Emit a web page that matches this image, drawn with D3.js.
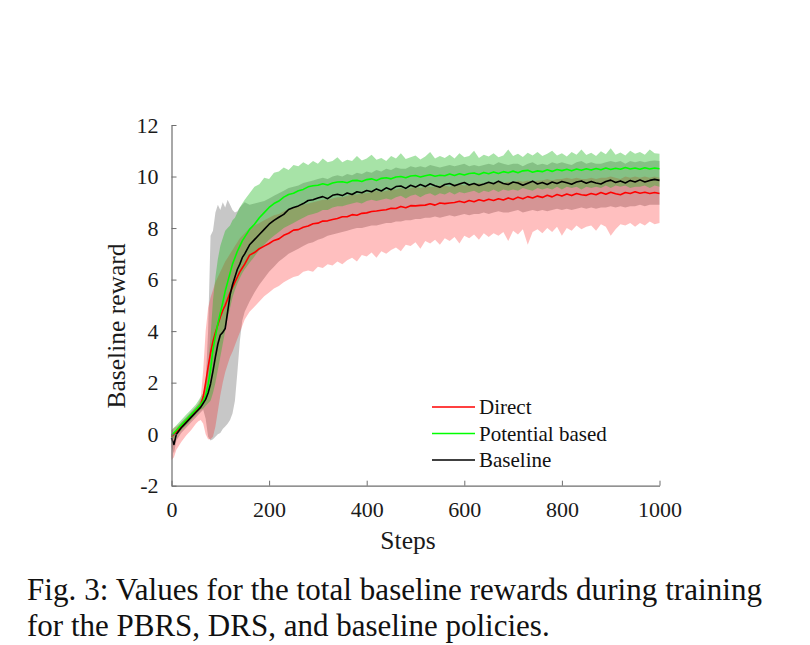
<!DOCTYPE html>
<html>
<head>
<meta charset="utf-8">
<script src="https://cdn.jsdelivr.net/npm/d3@7"></script>
<style>
  body { margin: 0; background: #fff; }
  svg { display: block; }
  text { font-family: "Liberation Serif", "Times New Roman", serif; }
</style>
</head>
<body>
<script>
// x sampling grid (steps)
const steps = [0, 5, 10, 20, 30, 40, 50].concat(d3.range(55, 151, 5), d3.range(160, 1001, 10));

// Potential based (green)
const potMean = [
  -0.05, 0.05, 0.15, 0.35, 0.55, 0.75, 0.95,
  1.05, 1.15, 1.3, 1.5, 1.9, 2.5, 3.3, 3.8, 4.3, 4.7, 5.1, 5.55, 5.9, 6.25, 6.6, 6.85, 7.1, 7.3, 7.5, 7.65,
  7.95, 8.15, 8.4, 8.6, 8.8, 8.95, 9.05, 9.2, 9.3, 9.35,
  9.45, 9.5, 9.6, 9.64, 9.66, 9.72, 9.67, 9.75, 9.79, 9.8,
  9.76, 9.84, 9.85, 9.81, 9.88, 9.91, 9.85, 9.93, 9.95, 9.91,
  9.98, 10.0, 9.95, 10.02, 10.04, 9.98, 10.03, 10.07, 10.01, 10.05,
  10.03, 10.1, 10.04, 10.11, 10.06, 10.12, 10.14, 10.08, 10.16, 10.11,
  10.18, 10.12, 10.19, 10.15, 10.21, 10.15, 10.22, 10.24, 10.17, 10.22,
  10.19, 10.26, 10.2, 10.27, 10.23, 10.28, 10.22, 10.29, 10.24, 10.3,
  10.25, 10.31, 10.26, 10.33, 10.27, 10.32, 10.28, 10.35, 10.29, 10.33,
  10.28, 10.34, 10.29, 10.33, 10.3
];
const potHigh = [
  0.15, 0.25, 0.35, 0.55, 0.75, 0.95, 1.15,
  1.3, 1.45, 1.6, 1.9, 2.6, 3.8, 5.2, 6.1, 6.8, 7.3, 7.6, 7.9, 8.0, 8.1, 8.3, 8.4, 8.6, 8.8, 8.95, 9.1,
  9.35, 9.6, 9.7, 9.95, 9.9, 10.15, 10.2, 10.35, 10.25, 10.45,
  10.4, 10.55, 10.45, 10.6, 10.5, 10.7, 10.55, 10.6, 10.75, 10.55,
  10.65, 10.6, 10.8, 10.62, 10.7, 10.85, 10.65, 10.72, 10.6, 10.8,
  10.7, 10.9, 10.68, 10.75, 10.82, 10.66, 10.78, 10.95, 10.7, 10.8,
  10.72, 10.85, 10.7, 10.9, 10.75, 10.8, 11.0, 10.72, 10.85, 10.78,
  10.9, 10.75, 10.82, 11.05, 10.8, 10.88, 10.76, 10.92, 10.82, 10.95,
  10.8, 10.88, 11.0, 10.82, 10.9, 10.78, 10.95, 10.85, 11.05, 10.84,
  10.92, 10.8, 10.98, 10.86, 11.1, 10.85, 10.93, 10.82, 11.0, 10.88,
  10.95, 10.85, 11.05, 10.9, 10.88
];
const potLow = [
  -0.25, -0.15, -0.05, 0.15, 0.35, 0.55, 0.75,
  0.85, 0.95, 1.0, 1.1, 1.2, 1.3, 1.6, 2.0, 2.5, 3.0, 3.5, 4.0, 4.5, 4.9, 5.3, 5.6, 5.85, 6.05, 6.25, 6.4,
  6.65, 6.9, 7.15, 7.35, 7.55, 7.7, 7.85, 8.0, 8.1, 8.2,
  8.3, 8.4, 8.5, 8.55, 8.6, 8.7, 8.7, 8.8, 8.85, 8.85,
  8.9, 8.95, 9.0, 8.95, 9.05, 9.1, 9.05, 9.1, 9.15, 9.1,
  9.2, 9.25, 9.15, 9.25, 9.3, 9.2, 9.3, 9.35, 9.25, 9.35,
  9.3, 9.4, 9.3, 9.4, 9.35, 9.4, 9.45, 9.35, 9.45, 9.4,
  9.5, 9.4, 9.5, 9.45, 9.5, 9.45, 9.55, 9.5, 9.45, 9.55,
  9.5, 9.55, 9.5, 9.6, 9.5, 9.6, 9.55, 9.6, 9.5, 9.6,
  9.55, 9.6, 9.55, 9.65, 9.55, 9.65, 9.6, 9.65, 9.55, 9.6,
  9.6, 9.65, 9.55, 9.65, 9.6
];

// Baseline (black)
const baseMean = [
  -0.15, -0.4, 0.0, 0.25, 0.45, 0.65, 0.85,
  0.95, 1.05, 1.2, 1.35, 1.6, 1.95, 2.45, 3.0, 3.5, 3.85, 3.95, 4.1, 4.75, 5.4, 5.8, 6.1, 6.4, 6.6, 6.85, 7.0,
  7.35, 7.55, 7.75, 7.95, 8.15, 8.3, 8.42, 8.53, 8.72, 8.8,
  8.86, 8.95, 9.07, 9.1, 9.17, 9.22, 9.14, 9.27, 9.31, 9.26,
  9.36, 9.3, 9.41, 9.37, 9.46, 9.41, 9.52, 9.44, 9.56, 9.49,
  9.61, 9.63, 9.54, 9.66, 9.59, 9.69, 9.61, 9.72, 9.64, 9.58,
  9.69, 9.73, 9.64, 9.71, 9.77, 9.67, 9.73, 9.65, 9.71, 9.78,
  9.72, 9.82, 9.73, 9.69, 9.79, 9.75, 9.66, 9.74, 9.82, 9.71,
  9.77, 9.69, 9.79, 9.73, 9.81, 9.76, 9.7, 9.79, 9.83, 9.74,
  9.81, 9.75, 9.71, 9.81, 9.86, 9.77, 9.83, 9.75, 9.85, 9.79,
  9.87, 9.79, 9.85, 9.89, 9.85
];
const baseHigh = [
  0.05, 0.0, 0.2, 0.45, 0.65, 0.85, 1.05,
  1.15, 1.3, 1.5, 2.0, 4.0, 7.7, 7.9, 8.6, 8.9, 8.7, 9.0, 8.8, 9.1, 8.9, 8.7, 8.6, 8.65, 8.8, 8.9, 9.0,
  8.9, 8.95, 9.0, 9.05, 9.15, 9.25, 9.35, 9.45, 9.55, 9.6,
  9.65, 9.75, 9.8, 9.85, 9.9, 9.95, 9.9, 10.0, 10.05, 10.0,
  10.1, 10.05, 10.15, 10.1, 10.2, 10.15, 10.25, 10.2, 10.3, 10.25,
  10.35, 10.3, 10.3, 10.4, 10.35, 10.4, 10.35, 10.45, 10.4, 10.35,
  10.4, 10.45, 10.4, 10.45, 10.5, 10.4, 10.45, 10.4, 10.45, 10.5,
  10.45, 10.55, 10.5, 10.45, 10.5, 10.5, 10.4, 10.5, 10.55, 10.45,
  10.5, 10.45, 10.55, 10.5, 10.55, 10.5, 10.45, 10.55, 10.6, 10.5,
  10.55, 10.5, 10.5, 10.55, 10.6, 10.55, 10.6, 10.5, 10.6, 10.55,
  10.6, 10.55, 10.6, 10.62, 10.6
];
const baseLow = [
  -0.5, -0.75, -0.25, 0.05, 0.25, 0.45, 0.65,
  0.75, 0.85, 0.95, 0.6, -0.1, -0.25, -0.2, -0.1, 0.0, 0.05, 0.2, 0.3, 0.4, 0.55, 0.8, 1.3, 2.4, 3.6, 4.4, 4.75,
  5.15, 5.5, 5.8, 6.05, 6.3, 6.5, 6.7, 6.85, 7.0, 7.1,
  7.2, 7.3, 7.4, 7.45, 7.55, 7.6, 7.7, 7.75, 7.8, 7.85,
  7.9, 7.95, 8.0, 8.0, 8.05, 8.1, 8.1, 8.15, 8.2, 8.2,
  8.25, 8.25, 8.3, 8.3, 8.35, 8.35, 8.4, 8.4, 8.45, 8.4,
  8.45, 8.5, 8.45, 8.5, 8.55, 8.5, 8.55, 8.55, 8.6, 8.55,
  8.6, 8.65, 8.6, 8.6, 8.65, 8.7, 8.6, 8.65, 8.7, 8.65,
  8.7, 8.65, 8.7, 8.75, 8.7, 8.75, 8.7, 8.75, 8.8, 8.75,
  8.8, 8.75, 8.8, 8.8, 8.85, 8.8, 8.85, 8.8, 8.85, 8.85,
  8.9, 8.85, 8.9, 8.9, 8.9
];

// Direct (red)
const dirMean = [
  -0.1, 0.0, 0.1, 0.3, 0.5, 0.7, 0.9,
  1.0, 1.15, 1.45, 2.0, 2.6, 3.15, 3.6, 3.95, 4.25, 4.55, 4.8, 5.0, 5.25, 5.5, 5.7, 5.9, 6.1, 6.3, 6.45, 6.6,
  6.95, 7.05, 7.2, 7.3, 7.4, 7.52, 7.58, 7.72, 7.8, 7.92,
  7.94, 8.03, 8.08, 8.17, 8.19, 8.27, 8.28, 8.33, 8.37, 8.44,
  8.44, 8.52, 8.5, 8.57, 8.59, 8.64, 8.66, 8.69, 8.71, 8.77,
  8.76, 8.84, 8.79, 8.87, 8.86, 8.88, 8.89, 8.94, 8.89, 8.97,
  8.95, 8.97, 8.99, 9.04, 8.99, 9.07, 9.02, 9.1, 9.05, 9.12,
  9.07, 9.14, 9.09, 9.17, 9.11, 9.2, 9.14, 9.22, 9.17, 9.24,
  9.19, 9.27, 9.21, 9.3, 9.24, 9.32, 9.26, 9.34, 9.29, 9.27,
  9.34, 9.29, 9.38, 9.31, 9.39, 9.33, 9.29, 9.38, 9.34, 9.41,
  9.35, 9.39, 9.34, 9.38, 9.34
];
const dirHigh = [
  0.15, 0.25, 0.3, 0.45, 0.65, 0.85, 1.05,
  1.2, 1.4, 2.5, 4.0, 4.9, 5.3, 5.6, 5.9, 6.1, 6.3, 6.5, 6.7, 6.85, 7.0, 7.15, 7.3, 7.45, 7.6, 7.7, 7.8,
  8.0, 8.1, 8.2, 8.3, 8.4, 8.5, 8.55, 8.65, 8.75, 8.8,
  8.85, 8.9, 8.95, 9.0, 9.05, 9.1, 9.1, 9.15, 9.2, 9.2,
  9.25, 9.3, 9.3, 9.35, 9.35, 9.4, 9.45, 9.4, 9.45, 9.5,
  9.5, 9.55, 9.5, 9.55, 9.6, 9.55, 9.6, 9.6, 9.6, 9.65,
  9.65, 9.6, 9.7, 9.7, 9.65, 9.7, 9.7, 9.75, 9.7, 9.75,
  9.75, 9.8, 9.75, 9.8, 9.75, 9.85, 9.8, 9.85, 9.8, 9.85,
  9.85, 9.9, 9.85, 9.9, 9.9, 9.95, 9.9, 9.95, 9.9, 9.9,
  9.95, 9.9, 9.95, 9.95, 10.0, 9.95, 9.9, 10.0, 9.95, 10.0,
  9.95, 10.0, 9.95, 10.0, 9.95
];
const dirLow = [
  -1.0, -0.9, -0.6, -0.3, -0.05, 0.15, 0.4,
  0.5, 0.55, 0.4, 0.0, -0.2, -0.2, -0.1, 0.3, 0.9, 1.5, 2.0, 2.4, 2.7, 3.0, 3.2, 3.45, 3.7, 3.95, 4.2, 4.45,
  4.75, 4.95, 5.15, 5.35, 5.5, 5.65, 5.75, 5.9, 6.0, 6.1,
  6.15, 6.3, 6.35, 6.3, 6.5, 6.45, 6.6, 6.55, 6.7, 6.6,
  6.75, 6.85, 6.7, 6.95, 6.9, 7.05, 6.85, 7.1, 7.0, 7.15,
  7.25, 7.1, 7.35, 7.3, 7.45, 7.2, 7.5, 7.4, 7.55, 7.35,
  7.6, 7.5, 7.65, 7.4, 7.7, 7.6, 7.75, 7.55, 7.8, 7.65,
  7.8, 7.7, 7.85, 7.5, 7.9, 7.75, 7.95, 7.35, 7.85, 7.95,
  7.8, 8.0, 7.85, 8.05, 7.7, 8.0, 7.9, 8.1, 7.95, 8.05,
  8.1, 7.9, 8.15, 8.05, 7.7, 7.95, 8.15, 8.1, 8.2, 8.05,
  8.2, 8.1, 8.25, 8.15, 8.2
];

const xTicks = [0, 200, 400, 600, 800, 1000];
const yTicks = [-2, 0, 2, 4, 6, 8, 10, 12];
const legendNames = ["Direct", "Potential based", "Baseline"];
const captionLines = [
  "Fig. 3: Values for the total baseline rewards during training",
  "for the PBRS, DRS, and baseline policies."
];

const width = 810, height = 645;
const x = d3.scaleLinear().domain([0, 1000]).range([171.5, 659.5]);
const y = d3.scaleLinear().domain([-2, 12]).range([485.7, 125]);

const svg = d3.select("body").append("svg")
  .attr("width", width)
  .attr("height", height);

const series = [
  { name: "Baseline", mean: baseMean, lo: baseLow, hi: baseHigh, line: "#000000", fill: "#000000", op: 0.22 },
  { name: "Direct", mean: dirMean, lo: dirLow, hi: dirHigh, line: "#ff0000", fill: "#ff0000", op: 0.25 },
  { name: "Potential based", mean: potMean, lo: potLow, hi: potHigh, line: "#00ff00", fill: "#22b822", op: 0.4 }
];

const area = (lo, hi) => d3.area()
  .x((d, i) => x(steps[i]))
  .y0((d, i) => y(lo[i]))
  .y1((d, i) => y(hi[i]))(steps);

const line = (vals) => d3.line()
  .x((d, i) => x(steps[i]))
  .y((d, i) => y(vals[i]))(steps);

// shaded bands
svg.append("g").selectAll("path")
  .data(series)
  .join("path")
  .attr("d", (s) => area(s.lo, s.hi))
  .attr("fill", (s) => s.fill)
  .attr("fill-opacity", (s) => s.op)
  .attr("stroke", "none");

// mean lines (red, green, black on top)
const lineOrder = [series[1], series[2], series[0]];
svg.append("g").selectAll("path")
  .data(lineOrder)
  .join("path")
  .attr("d", (s) => line(s.mean))
  .attr("fill", "none")
  .attr("stroke", (s) => s.line)
  .attr("stroke-width", 1.6)
  .attr("stroke-linejoin", "round");

// axes (ticks point inward)
const axisColor = "#6e6e6e";
const xAxis = svg.append("g")
  .attr("transform", `translate(0,${y(-2)})`)
  .call(d3.axisBottom(x).tickValues(xTicks).tickFormat((d) => String(d))
    .tickSizeInner(-5).tickSizeOuter(0).tickPadding(12));
const yAxis = svg.append("g")
  .attr("transform", `translate(${x(0)},0)`)
  .call(d3.axisLeft(y).tickValues(yTicks).tickFormat((d) => String(d))
    .tickSizeInner(-5).tickSizeOuter(0).tickPadding(13));

[xAxis, yAxis].forEach((g) => {
  g.attr("font-family", null).attr("font-size", null);
  g.select(".domain").attr("stroke", axisColor).attr("stroke-width", 1.2);
  g.selectAll(".tick line").attr("stroke", axisColor).attr("stroke-width", 1);
  g.selectAll(".tick text")
    .attr("fill", "#1a1a1a")
    .style("font-family", "'Liberation Serif', serif")
    .style("font-size", "22px");
});
xAxis.selectAll(".tick text").attr("dy", "0.9em");

// axis titles
svg.append("text")
  .attr("x", 408)
  .attr("y", 549)
  .attr("text-anchor", "middle")
  .attr("font-size", 25.5)
  .attr("fill", "#1a1a1a")
  .text("Steps");

svg.append("text")
  .attr("transform", "translate(125,326) rotate(-90)")
  .attr("text-anchor", "middle")
  .attr("font-size", 25.5)
  .attr("fill", "#1a1a1a")
  .text("Baseline reward");

// legend
const legendColors = ["#ff0000", "#00ff00", "#000000"];
const legend = svg.append("g").selectAll("g")
  .data(legendNames)
  .join("g")
  .attr("transform", (d, i) => `translate(432,${407 + i * 26.5})`);
legend.append("line")
  .attr("x1", 0).attr("x2", 43)
  .attr("stroke", (d, i) => legendColors[i])
  .attr("stroke-width", 1.5);
legend.append("text")
  .attr("x", 47)
  .attr("dy", "0.35em")
  .attr("font-size", 21)
  .attr("fill", "#111")
  .text((d) => d);

// caption
svg.append("text")
  .attr("x", 27)
  .attr("y", 600)
  .attr("font-size", 31)
  .attr("fill", "#111")
  .attr("textLength", 735)
  .attr("lengthAdjust", "spacing")
  .text(captionLines[0]);
svg.append("text")
  .attr("x", 27)
  .attr("y", 636)
  .attr("font-size", 31)
  .attr("fill", "#111")
  .text(captionLines[1]);
</script>
</body>
</html>
